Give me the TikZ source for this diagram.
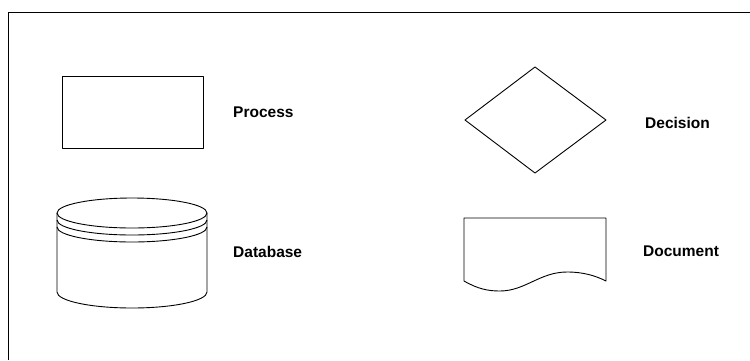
\documentclass[tikz,border=0pt]{standalone}
\usepackage{fontspec}
\setmainfont{Liberation Sans}
\begin{document}
\begin{tikzpicture}[x=1pt,y=-1pt,
  shapeline/.style={draw=black,line width=0.9pt,line join=round},
  framelin/.style={draw=black,line width=0.9pt},
  lbl/.style={anchor=base west,inner sep=0pt,font=\fontsize{15.5}{18}\selectfont\bfseries}]
\useasboundingbox (0,0) rectangle (750,360);
% frame
\coordinate (fbl) at (8,360);
\coordinate (ftl) at (8,12);
\coordinate (ftr) at (750,12);
\draw[framelin] (fbl) -- (ftl) -- (ftr);
% process
\draw[shapeline] (62,76) rectangle (203,148);
\node[lbl] (process) at (233,117) {Process};
% decision
\draw[shapeline] (465,120) -- (535,67) -- (606,120) -- (535,173) -- cycle;
\node[lbl] (decision) at (645,128) {Decision};
% database
\draw[shapeline] (132,213) ellipse [x radius=75, y radius=15];
\draw[shapeline] (57,220) arc[start angle=180,end angle=0,x radius=75,y radius=15];
\draw[shapeline] (57,227) arc[start angle=180,end angle=0,x radius=75,y radius=15];
\draw[shapeline] (57,213) -- (57,292) arc[start angle=180,end angle=0,x radius=75,y radius=16] -- (207,213);
\node[lbl] (database) at (233,257) {Database};
% document
\draw[shapeline] (464,281) -- (464,218) -- (606,218) -- (606,281)
  .. controls (596,276) and (584,272) .. (567,272)
  .. controls (540,272) and (525,291) .. (500,291)
  .. controls (488,291) and (478,289) .. (464,281);
\node[lbl] (document) at (643,256) {Document};
\end{tikzpicture}
\end{document}
